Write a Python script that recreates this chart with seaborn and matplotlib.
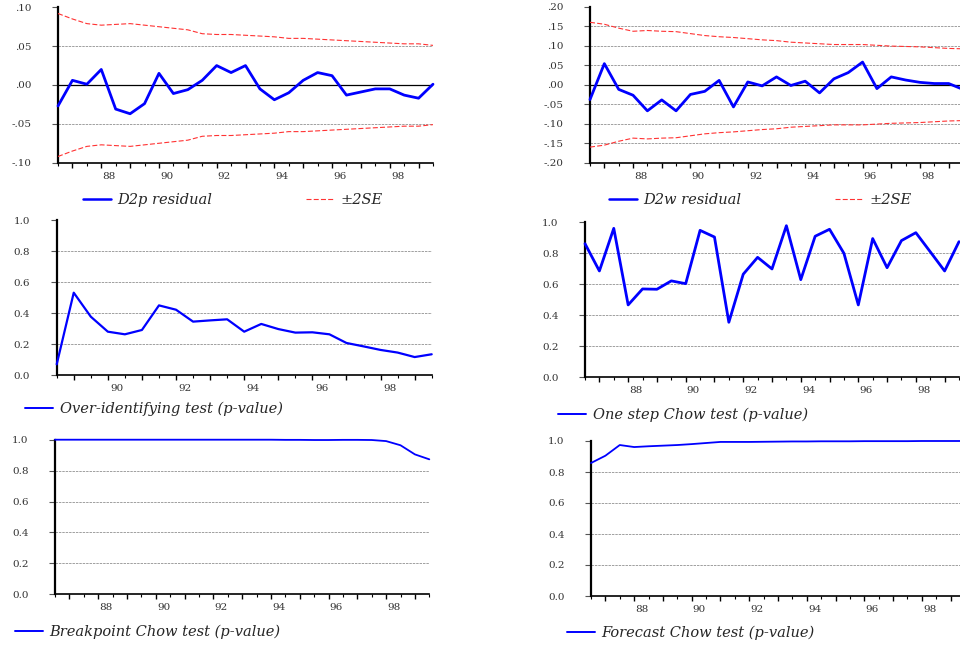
import numpy as np
import matplotlib
matplotlib.use('Agg')
import matplotlib.pyplot as plt
import matplotlib.transforms as mtrans
from matplotlib.lines import Line2D
from matplotlib.ticker import FixedLocator, FuncFormatter
import seaborn as sns

# semiannual observations, 1986H2 .. 1999H2 (x in two-digit years)
periods = np.arange(86.5, 100.0, 0.5)
periods_overid = np.arange(88.5, 100.0, 0.5)

d2p_resid = [-0.027, 0.006, 0.001, 0.020, -0.031, -0.037, -0.024, 0.015, -0.011, -0.006,
             0.006, 0.025, 0.016, 0.025, -0.005, -0.019, -0.010, 0.006, 0.016, 0.012,
             -0.013, -0.009, -0.005, -0.005, -0.013, -0.017, 0.001]
d2p_se2 = [0.092, 0.085, 0.079, 0.077, 0.078, 0.079, 0.077, 0.075, 0.073, 0.071,
           0.066, 0.065, 0.065, 0.064, 0.063, 0.062, 0.060, 0.060, 0.059, 0.058,
           0.057, 0.056, 0.055, 0.054, 0.053, 0.053, 0.051]

d2w_resid = [-0.038, 0.054, -0.012, -0.027, -0.067, -0.039, -0.067, -0.025, -0.017, 0.011,
             -0.057, 0.007, -0.003, 0.020, -0.002, 0.009, -0.021, 0.015, 0.031, 0.058,
             -0.010, 0.020, 0.012, 0.006, 0.003, 0.003, -0.012]
d2w_se2 = [0.160, 0.155, 0.145, 0.137, 0.139, 0.137, 0.136, 0.131, 0.126, 0.123,
           0.121, 0.118, 0.115, 0.113, 0.109, 0.107, 0.105, 0.103, 0.103, 0.103,
           0.101, 0.099, 0.098, 0.097, 0.095, 0.093, 0.092]

overid_p = [0.069, 0.532, 0.377, 0.280, 0.263, 0.291, 0.450, 0.422, 0.345, 0.353,
            0.360, 0.280, 0.330, 0.297, 0.274, 0.276, 0.263, 0.207, 0.185, 0.162,
            0.145, 0.116, 0.134]

onestep_p = [0.862, 0.686, 0.961, 0.467, 0.570, 0.568, 0.622, 0.604, 0.948, 0.905,
             0.355, 0.665, 0.774, 0.699, 0.978, 0.630, 0.910, 0.955, 0.800, 0.467,
             0.895, 0.707, 0.882, 0.933, 0.810, 0.686, 0.875]

breakpoint_p = [1.000, 1.000, 1.000, 1.000, 1.000, 1.000, 1.000, 1.000, 1.000, 1.000,
                1.000, 1.000, 1.000, 1.000, 1.000, 1.000, 0.999, 0.999, 0.998, 0.998,
                0.999, 0.999, 0.998, 0.991, 0.964, 0.905, 0.873]

forecast_p = [0.858, 0.905, 0.974, 0.961, 0.966, 0.970, 0.974, 0.980, 0.987, 0.994,
              0.994, 0.994, 0.995, 0.996, 0.997, 0.997, 0.998, 0.998, 0.998, 0.999,
              0.999, 0.999, 0.999, 1.000, 1.000, 1.000, 1.000]

resid_ticks = [-0.10, -0.05, 0.00, 0.05, 0.10]
resid_w_ticks = [-0.20, -0.15, -0.10, -0.05, 0.00, 0.05, 0.10, 0.15, 0.20]
pval_ticks = [0.0, 0.2, 0.4, 0.6, 0.8, 1.0]
year_labels = [88, 90, 92, 94, 96, 98]

sns.set_theme(style='white')
plt.rcParams['font.family'] = ['DejaVu Serif']
plt.rcParams['axes.facecolor'] = 'white'

W, H = 960, 649
fig = plt.figure(figsize=(W / 100, H / 100), dpi=100)

BLUE = '#0000ff'
RED = '#ff3333'
GRID = '#a0a0a0'


def px_axes(x0, x1, ytop, ybot):
    return fig.add_axes([x0 / W, 1 - ybot / H, (x1 - x0) / W, (ybot - ytop) / H])


def style_axes(ax, xmin, xmax, yticks, fmt, zero_line=False):
    ax.set_xlim(xmin, xmax)
    ax.set_ylim(yticks[0], yticks[-1])
    for s in ['top', 'right']:
        ax.spines[s].set_visible(False)
    ax.spines['left'].set_color('black')
    ax.spines['left'].set_linewidth(1.6)
    ax.spines['bottom'].set_color('black')
    ax.spines['bottom'].set_linewidth(1.2)
    for v in yticks[1:-1]:
        if zero_line and abs(v) < 1e-9:
            ax.axhline(v, color='black', lw=0.9, zorder=1)
        else:
            ax.axhline(v, color=GRID, lw=0.7, linestyle=(0, (2.5, 1)), zorder=1)
    ax.yaxis.set_major_locator(FixedLocator(yticks))
    ax.yaxis.set_major_formatter(FuncFormatter(fmt))
    ax.tick_params(axis='y', which='major', left=True, length=4, width=0.8,
                   color='#555555', pad=15, labelsize=7.5, labelcolor='#333333')
    years = np.arange(np.ceil(xmin), np.floor(xmax) + 1)
    halves = np.arange(xmin, xmax + 0.01, 0.5)
    ax.xaxis.set_major_locator(FixedLocator(years))
    ax.xaxis.set_minor_locator(FixedLocator(halves))
    ax.xaxis.set_major_formatter(FuncFormatter(
        lambda v, p: '%d' % v if int(round(v)) in year_labels else ''))
    ax.tick_params(axis='x', which='major', bottom=True, length=3.5, width=1.0,
                   color='black', pad=3, labelsize=7.5, labelcolor='#333333')
    ax.tick_params(axis='x', which='minor', bottom=True, length=2, width=0.8,
                   color='black')
    # EViews centres the year label over the year's observations
    bb = ax.get_position()
    dx = 0.27 * bb.width * W / (xmax - xmin) / 100
    shift = mtrans.ScaledTranslation(dx, 0, fig.dpi_scale_trans)
    for lab in ax.get_xticklabels():
        lab.set_transform(lab.get_transform() + shift)
    ax.set_xlabel('')
    ax.set_ylabel('')


def resid_fmt(v, p):
    s = '%.2f' % v
    return s.replace('0.', '.', 1)


def pval_fmt(v, p):
    return '%.1f' % v


def add_legend(ax, handles, labels, x_px, y_px):
    ax.legend(handles, labels, loc='center left',
              bbox_to_anchor=(x_px / W, 1 - y_px / H), bbox_transform=fig.transFigure,
              frameon=False, ncol=len(handles), borderpad=0, borderaxespad=0,
              handlelength=1.95, handletextpad=0.42, columnspacing=6.4,
              prop={'family': 'DejaVu Serif', 'style': 'italic', 'size': 10.5})


# --- D2p residual
ax1 = px_axes(58, 433, 7.3, 162.7)
sns.lineplot(x=periods, y=d2p_se2, ax=ax1, color=RED, lw=0.8, zorder=3)
sns.lineplot(x=periods, y=[-v for v in d2p_se2], ax=ax1, color=RED, lw=0.8, zorder=3)
for ln in ax1.lines:
    ln.set_linestyle((0, (4.5, 2)))
sns.lineplot(x=periods, y=d2p_resid, ax=ax1, color=BLUE, lw=2.0, zorder=4)
style_axes(ax1, 86.5, 99.5, resid_ticks, resid_fmt, zero_line=True)
add_legend(ax1, [Line2D([], [], color=BLUE, lw=1.8),
                 Line2D([], [], color=RED, lw=0.8, linestyle=(0, (4.5, 2)))],
           ['D2p residual', '±2SE'], 83, 200)

# --- D2w residual
ax2 = px_axes(590, 963, 6.7, 162.7)
sns.lineplot(x=periods, y=d2w_se2, ax=ax2, color=RED, lw=0.8, zorder=3)
sns.lineplot(x=periods, y=[-v for v in d2w_se2], ax=ax2, color=RED, lw=0.8, zorder=3)
for ln in ax2.lines:
    ln.set_linestyle((0, (4.5, 2)))
sns.lineplot(x=periods, y=d2w_resid, ax=ax2, color=BLUE, lw=2.0, zorder=4)
style_axes(ax2, 86.5, 99.5, resid_w_ticks, resid_fmt, zero_line=True)
add_legend(ax2, [Line2D([], [], color=BLUE, lw=1.8),
                 Line2D([], [], color=RED, lw=0.8, linestyle=(0, (4.5, 2)))],
           ['D2w residual', '±2SE'], 609, 200)

# --- Over-identifying test
ax3 = px_axes(56.7, 431.7, 220.3, 375)
sns.lineplot(x=periods_overid, y=overid_p, ax=ax3, color=BLUE, lw=1.6, zorder=4)
style_axes(ax3, 88.5, 99.5, pval_ticks, pval_fmt)
add_legend(ax3, [Line2D([], [], color=BLUE, lw=1.4)],
           ['Over-identifying test (p-value)'], 25, 409)

# --- One step Chow test
ax4 = px_axes(585, 959, 222.3, 377.3)
sns.lineplot(x=periods, y=onestep_p, ax=ax4, color=BLUE, lw=2.0, zorder=4)
style_axes(ax4, 86.5, 99.5, pval_ticks, pval_fmt)
add_legend(ax4, [Line2D([], [], color=BLUE, lw=1.4)],
           ['One step Chow test (p-value)'], 558, 415)

# --- Breakpoint Chow test
ax5 = px_axes(55, 429.3, 439.7, 594.3)
sns.lineplot(x=periods, y=breakpoint_p, ax=ax5, color=BLUE, lw=1.3, zorder=4)
style_axes(ax5, 86.5, 99.5, pval_ticks, pval_fmt)
add_legend(ax5, [Line2D([], [], color=BLUE, lw=1.4)],
           ['Breakpoint Chow test (p-value)'], 15, 632)

# --- Forecast Chow test
ax6 = px_axes(591, 965, 441, 596)
sns.lineplot(x=periods, y=forecast_p, ax=ax6, color=BLUE, lw=1.3, zorder=4)
style_axes(ax6, 86.5, 99.5, pval_ticks, pval_fmt)
add_legend(ax6, [Line2D([], [], color=BLUE, lw=1.4)],
           ['Forecast Chow test (p-value)'], 567, 633)

# keep the p-value curves at 1.0 fully visible
for ax in [ax1, ax2, ax3, ax4, ax5, ax6]:
    for ln in ax.lines:
        if ln.get_color() == BLUE:
            ln.set_clip_on(False)

fig.savefig('out.png', dpi=100, facecolor='white')
